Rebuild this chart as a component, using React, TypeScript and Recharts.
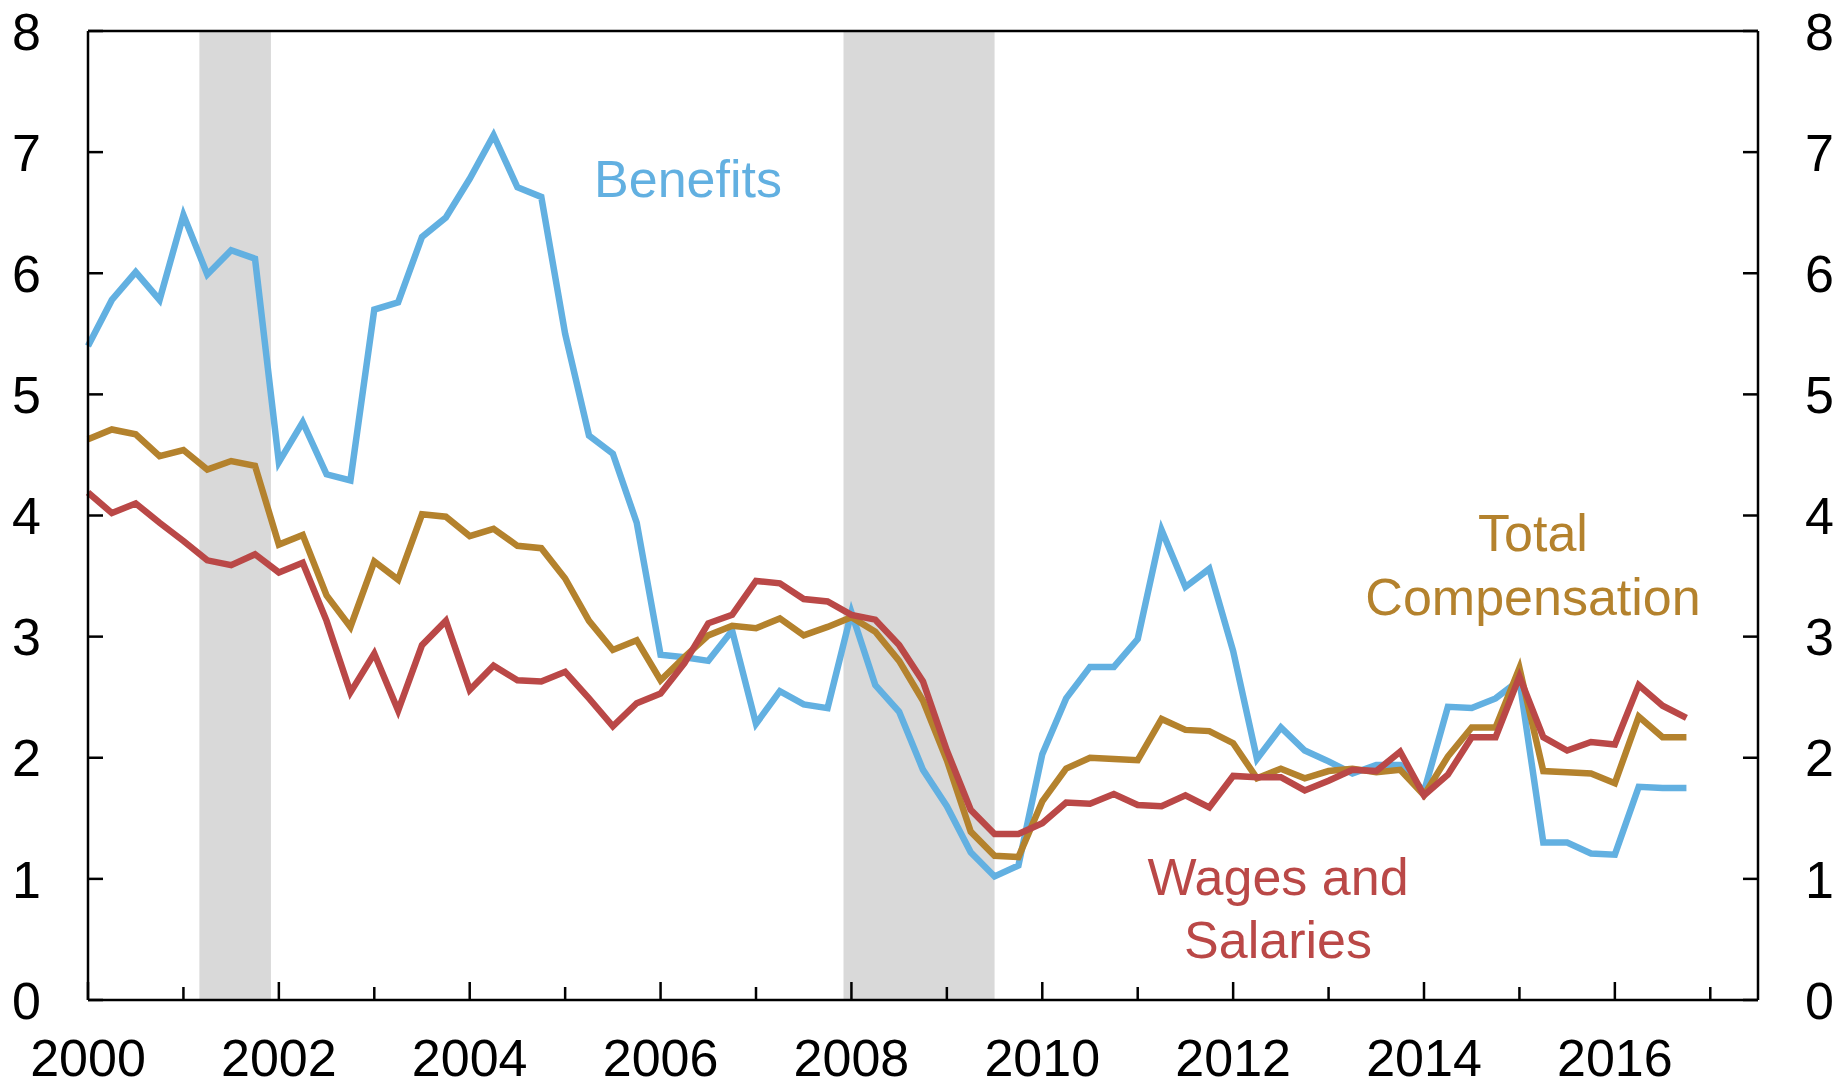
import { LineChart, Line, XAxis, YAxis, ReferenceArea, ReferenceLine } from 'recharts';

const START_YEAR = 2000;

// quarterly growth, 2000Q1 .. 2016Q4
const benefits = [
  5.40, 5.78, 6.01, 5.78, 6.48, 5.99, 6.19, 6.12, 4.44, 4.77, 4.34, 4.29,
  5.70, 5.76, 6.30, 6.46, 6.78, 7.14, 6.71, 6.63, 5.50, 4.66, 4.51, 3.94,
  2.85, 2.83, 2.80, 3.05, 2.28, 2.55, 2.44, 2.41, 3.20, 2.60, 2.38, 1.90,
  1.60, 1.22, 1.02, 1.11, 2.03, 2.49, 2.75, 2.75, 2.98, 3.88, 3.41, 3.56,
  2.88, 1.99, 2.25, 2.06, 1.97, 1.87, 1.94, 1.94, 1.72, 2.42, 2.41, 2.49,
  2.64, 1.30, 1.30, 1.21, 1.20, 1.76, 1.75, 1.75,
];

const totalComp = [
  4.63, 4.71, 4.67, 4.49, 4.54, 4.38, 4.45, 4.41, 3.76, 3.84, 3.34, 3.08,
  3.62, 3.47, 4.01, 3.99, 3.83, 3.89, 3.75, 3.73, 3.48, 3.13, 2.89, 2.97,
  2.64, 2.83, 3.01, 3.09, 3.07, 3.15, 3.01, 3.08, 3.16, 3.04, 2.80, 2.47,
  1.98, 1.39, 1.19, 1.18, 1.64, 1.91, 2.00, 1.99, 1.98, 2.32, 2.23, 2.22,
  2.12, 1.83, 1.91, 1.83, 1.89, 1.91, 1.88, 1.90, 1.69, 2.01, 2.25, 2.25,
  2.74, 1.89, 1.88, 1.87, 1.79, 2.34, 2.17, 2.17,
];

const wages = [
  4.19, 4.02, 4.10, 3.94, 3.79, 3.63, 3.59, 3.68, 3.53, 3.61, 3.13, 2.54,
  2.86, 2.39, 2.93, 3.13, 2.56, 2.76, 2.64, 2.63, 2.71, 2.49, 2.26, 2.45,
  2.53, 2.78, 3.11, 3.18, 3.46, 3.44, 3.31, 3.29, 3.18, 3.14, 2.93, 2.63,
  2.06, 1.57, 1.37, 1.37, 1.46, 1.63, 1.62, 1.70, 1.61, 1.60, 1.69, 1.59,
  1.85, 1.84, 1.84, 1.73, 1.81, 1.90, 1.89, 2.05, 1.69, 1.86, 2.17, 2.17,
  2.67, 2.17, 2.06, 2.13, 2.11, 2.60, 2.43, 2.33,
];

const recessions = [
  [2001.167, 2001.917],
  [2007.917, 2009.5],
];

const xTicks = [
  2000, 2001, 2002, 2003, 2004, 2005, 2006, 2007, 2008,
  2009, 2010, 2011, 2012, 2013, 2014, 2015, 2016, 2017,
];
const yTicks = [0, 1, 2, 3, 4, 5, 6, 7, 8];

const COLORS = {
  benefits: '#62B0E1',
  total: '#B4822D',
  wages: '#BA4847',
  shade: '#D9D9D9',
};

const FONT = '"Liberation Sans", Arial, sans-serif';

const data = benefits.map((b, i) => ({
  t: START_YEAR + i / 4,
  benefits: b,
  total: totalComp[i],
  wages: wages[i],
}));

const XTick = (props: any) => {
  const { x, y, payload } = props;
  const major = payload.value % 2 === 0;
  return (
    <g>
      <line x1={x} x2={x} y1={y} y2={y - (major ? 18 : 13)} stroke="#000" strokeWidth={2.5} />
      {major && (
        <text x={x} y={y + 76} textAnchor="middle" fontSize={52} fontFamily={FONT} fill="#000">
          {payload.value}
        </text>
      )}
    </g>
  );
};

const LeftTick = (props: any) => {
  const { x, y, payload } = props;
  return (
    <g>
      <line x1={x} x2={x + 15} y1={y} y2={y} stroke="#000" strokeWidth={2.5} />
      <text x={x - 47} y={y} dy="0.36em" textAnchor="end" fontSize={52} fontFamily={FONT} fill="#000">
        {payload.value}
      </text>
    </g>
  );
};

const RightTick = (props: any) => {
  const { x, y, payload } = props;
  return (
    <g>
      <line x1={x} x2={x - 15} y1={y} y2={y} stroke="#000" strokeWidth={2.5} />
      <text x={x + 47} y={y} dy="0.36em" textAnchor="start" fontSize={52} fontFamily={FONT} fill="#000">
        {payload.value}
      </text>
    </g>
  );
};

const labelStyle = { fontSize: 52, fontFamily: FONT };

export default function App() {
  return (
    <div style={{ position: 'absolute', left: 0, top: 0, width: 1841, height: 1088, background: '#fff' }}>
      <LineChart width={1841} height={1088} data={data} margin={{ top: 31, right: 0, bottom: 0, left: 0 }}>
        <XAxis
          dataKey="t"
          type="number"
          domain={[2000, 2017.5]}
          ticks={xTicks}
          interval={0}
          height={88}
          tickSize={0}
          tickMargin={0}
          tickLine={false}
          axisLine={{ stroke: '#000', strokeWidth: 2.5 }}
          tick={<XTick />}
        />
        <YAxis
          yAxisId="left"
          domain={[0, 8]}
          ticks={yTicks}
          interval={0}
          width={88}
          tickSize={0}
          tickMargin={0}
          tickLine={false}
          axisLine={{ stroke: '#000', strokeWidth: 2.5 }}
          tick={<LeftTick />}
        />
        <YAxis
          yAxisId="right"
          orientation="right"
          domain={[0, 8]}
          ticks={yTicks}
          interval={0}
          width={83}
          tickSize={0}
          tickMargin={0}
          tickLine={false}
          axisLine={{ stroke: '#000', strokeWidth: 2.5 }}
          tick={<RightTick />}
        />
        {recessions.map(([a, b]) => (
          <ReferenceArea
            key={a}
            yAxisId="left"
            x1={a}
            x2={b}
            y1={0}
            y2={8}
            fill={COLORS.shade}
            fillOpacity={1}
            stroke="none"
            ifOverflow="hidden"
          />
        ))}
        <ReferenceLine yAxisId="left" y={8} stroke="#000" strokeWidth={2.5} />
        {/* invisible series so the right axis has something bound to it */}
        <Line yAxisId="right" type="linear" dataKey="total" stroke="none" strokeWidth={0} dot={false} activeDot={false} isAnimationActive={false} />
        <Line yAxisId="left" type="linear" dataKey="benefits" stroke={COLORS.benefits} strokeWidth={6.5} dot={false} isAnimationActive={false} />
        <Line yAxisId="left" type="linear" dataKey="total" stroke={COLORS.total} strokeWidth={6.5} dot={false} isAnimationActive={false} />
        <Line yAxisId="left" type="linear" dataKey="wages" stroke={COLORS.wages} strokeWidth={6.5} dot={false} isAnimationActive={false} />
      </LineChart>
      <svg width={1841} height={1088} style={{ position: 'absolute', left: 0, top: 0, pointerEvents: 'none' }}>
        <text x={688} y={197} textAnchor="middle" fill={COLORS.benefits} style={labelStyle}>Benefits</text>
        <text x={1533} y={551} textAnchor="middle" fill={COLORS.total} style={labelStyle}>Total</text>
        <text x={1533} y={615} textAnchor="middle" fill={COLORS.total} style={labelStyle}>Compensation</text>
        <text x={1278} y={895} textAnchor="middle" fill={COLORS.wages} style={labelStyle}>Wages and</text>
        <text x={1278} y={958} textAnchor="middle" fill={COLORS.wages} style={labelStyle}>Salaries</text>
      </svg>
    </div>
  );
}
